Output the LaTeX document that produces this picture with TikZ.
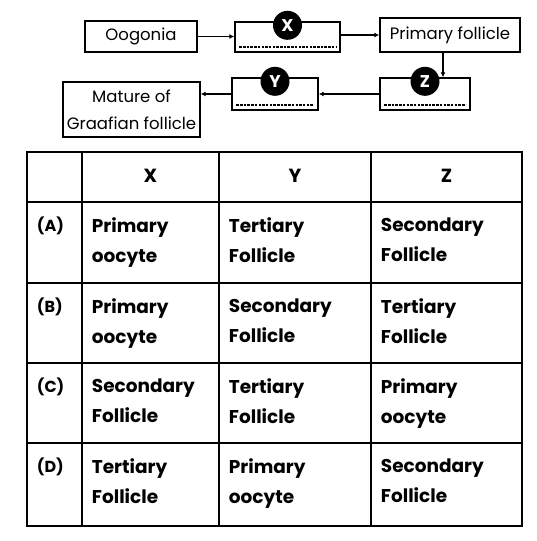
\documentclass[tikz,border=0pt]{standalone}
\usepackage{fontspec}
\setmainfont{Poppins}
\usetikzlibrary{math, calc, arrows.meta}

\begin{document}
\begin{tikzpicture}[x=1pt, y=-1pt, line width=1.8pt,
    box/.style={draw, line width=1.4pt, inner sep=0pt, align=center, font=\fontsize{16.5}{27}\selectfont},
    tag/.style={circle, fill=black, text=white, inner sep=0pt, minimum size=29pt, font=\fontsize{17}{17}\selectfont\bfseries},
    blank/.style={line width=2pt, dash pattern=on 2.5pt off 1.2pt},
    arr/.style={-{Latex[length=5pt, width=5pt]}, line width=1.2pt},
    head/.style={font=\fontsize{19}{19}\selectfont\bfseries},
    lab/.style={anchor=west, inner sep=0pt, font=\fontsize{16}{16}\selectfont\bfseries},
    cell/.style={anchor=north west, align=left, inner sep=0pt, font=\fontsize{18.5}{30}\selectfont\bfseries}]
    \tikzmath{
        \tabtop=152;
        \tabbottom=526;
        \tableft=27;
        \tabright=522;
    }
    \useasboundingbox (0, 0) rectangle (536, 541);

    % flow chart
    \node [box, minimum width=112pt, minimum height=31pt] (oog) at (141, 36.5) {Oogonia};
    \node [box, minimum width=105pt, minimum height=30pt] (xbox) at (287.5, 37) {};
    \node [box, minimum width=140pt, minimum height=34pt] (prim) at (450, 35) {Primary follicle};
    \node [box, minimum width=90pt, minimum height=32pt] (zbox) at (425, 94) {};
    \node [box, minimum width=86pt, minimum height=32pt] (ybox) at (275, 94) {};
    \node [box, minimum width=137pt, minimum height=55pt] (mat) at (131.5, 109.5) {Mature of\\Graafian follicle};

    \foreach \b/\n in {xbox/X, ybox/Y, zbox/Z}{%
            \draw [blank] ([shift={(5pt, 6pt)}] \b.south west) -- ([shift={(-5pt, 6pt)}] \b.south east);
            \node [tag] (t\n) at ([yshift=-4pt] \b.north) {\n};
        }

    \draw [arr] (oog.east) -- (oog.east -| xbox.west);
    \draw [arr] (xbox.east |- prim.west) -- (prim.west);
    \draw [arr] ([xshift=-7pt] prim.south) -- ([xshift=18pt] zbox.north);
    \draw [arr] (zbox.west) -- (ybox.east);
    \draw [arr] (ybox.west) -- (ybox.west -| mat.east);

    % table grid
    \draw (\tableft, \tabtop) rectangle (\tabright, \tabbottom);
    \foreach \x in {82, 219, 371}{%
            \draw (\x, \tabtop) -- (\x, \tabbottom);
        }
    \foreach \y in {202, 283, 363, 443}{%
            \draw (\tableft, \y) -- (\tabright, \y);
        }

    % header
    \foreach \n/\x in {X/150.5, Y/295, Z/446.5}{%
            \node [head] (h\n) at (\x, 176) {\n};
        }

    % rows
    \foreach \r/\t/\a/\b/\c in {%
            A/202/{Primary\\oocyte}/{Tertiary\\Follicle}/{Secondary\\Follicle},
            B/283/{Primary\\oocyte}/{Secondary\\Follicle}/{Tertiary\\Follicle},
            C/363/{Secondary\\Follicle}/{Tertiary\\Follicle}/{Primary\\oocyte},
            D/443/{Tertiary\\Follicle}/{Primary\\oocyte}/{Secondary\\Follicle}}{%
            \node [lab] (l\r) at (36, \t+24) {(\r)};
            \node [cell] (x\r) at (91, \t+15) {\a};
            \node [cell] (y\r) at (228, \t+15) {\b};
            \node [cell] (z\r) at (380, \t+15) {\c};
        }
\end{tikzpicture}
\end{document}
